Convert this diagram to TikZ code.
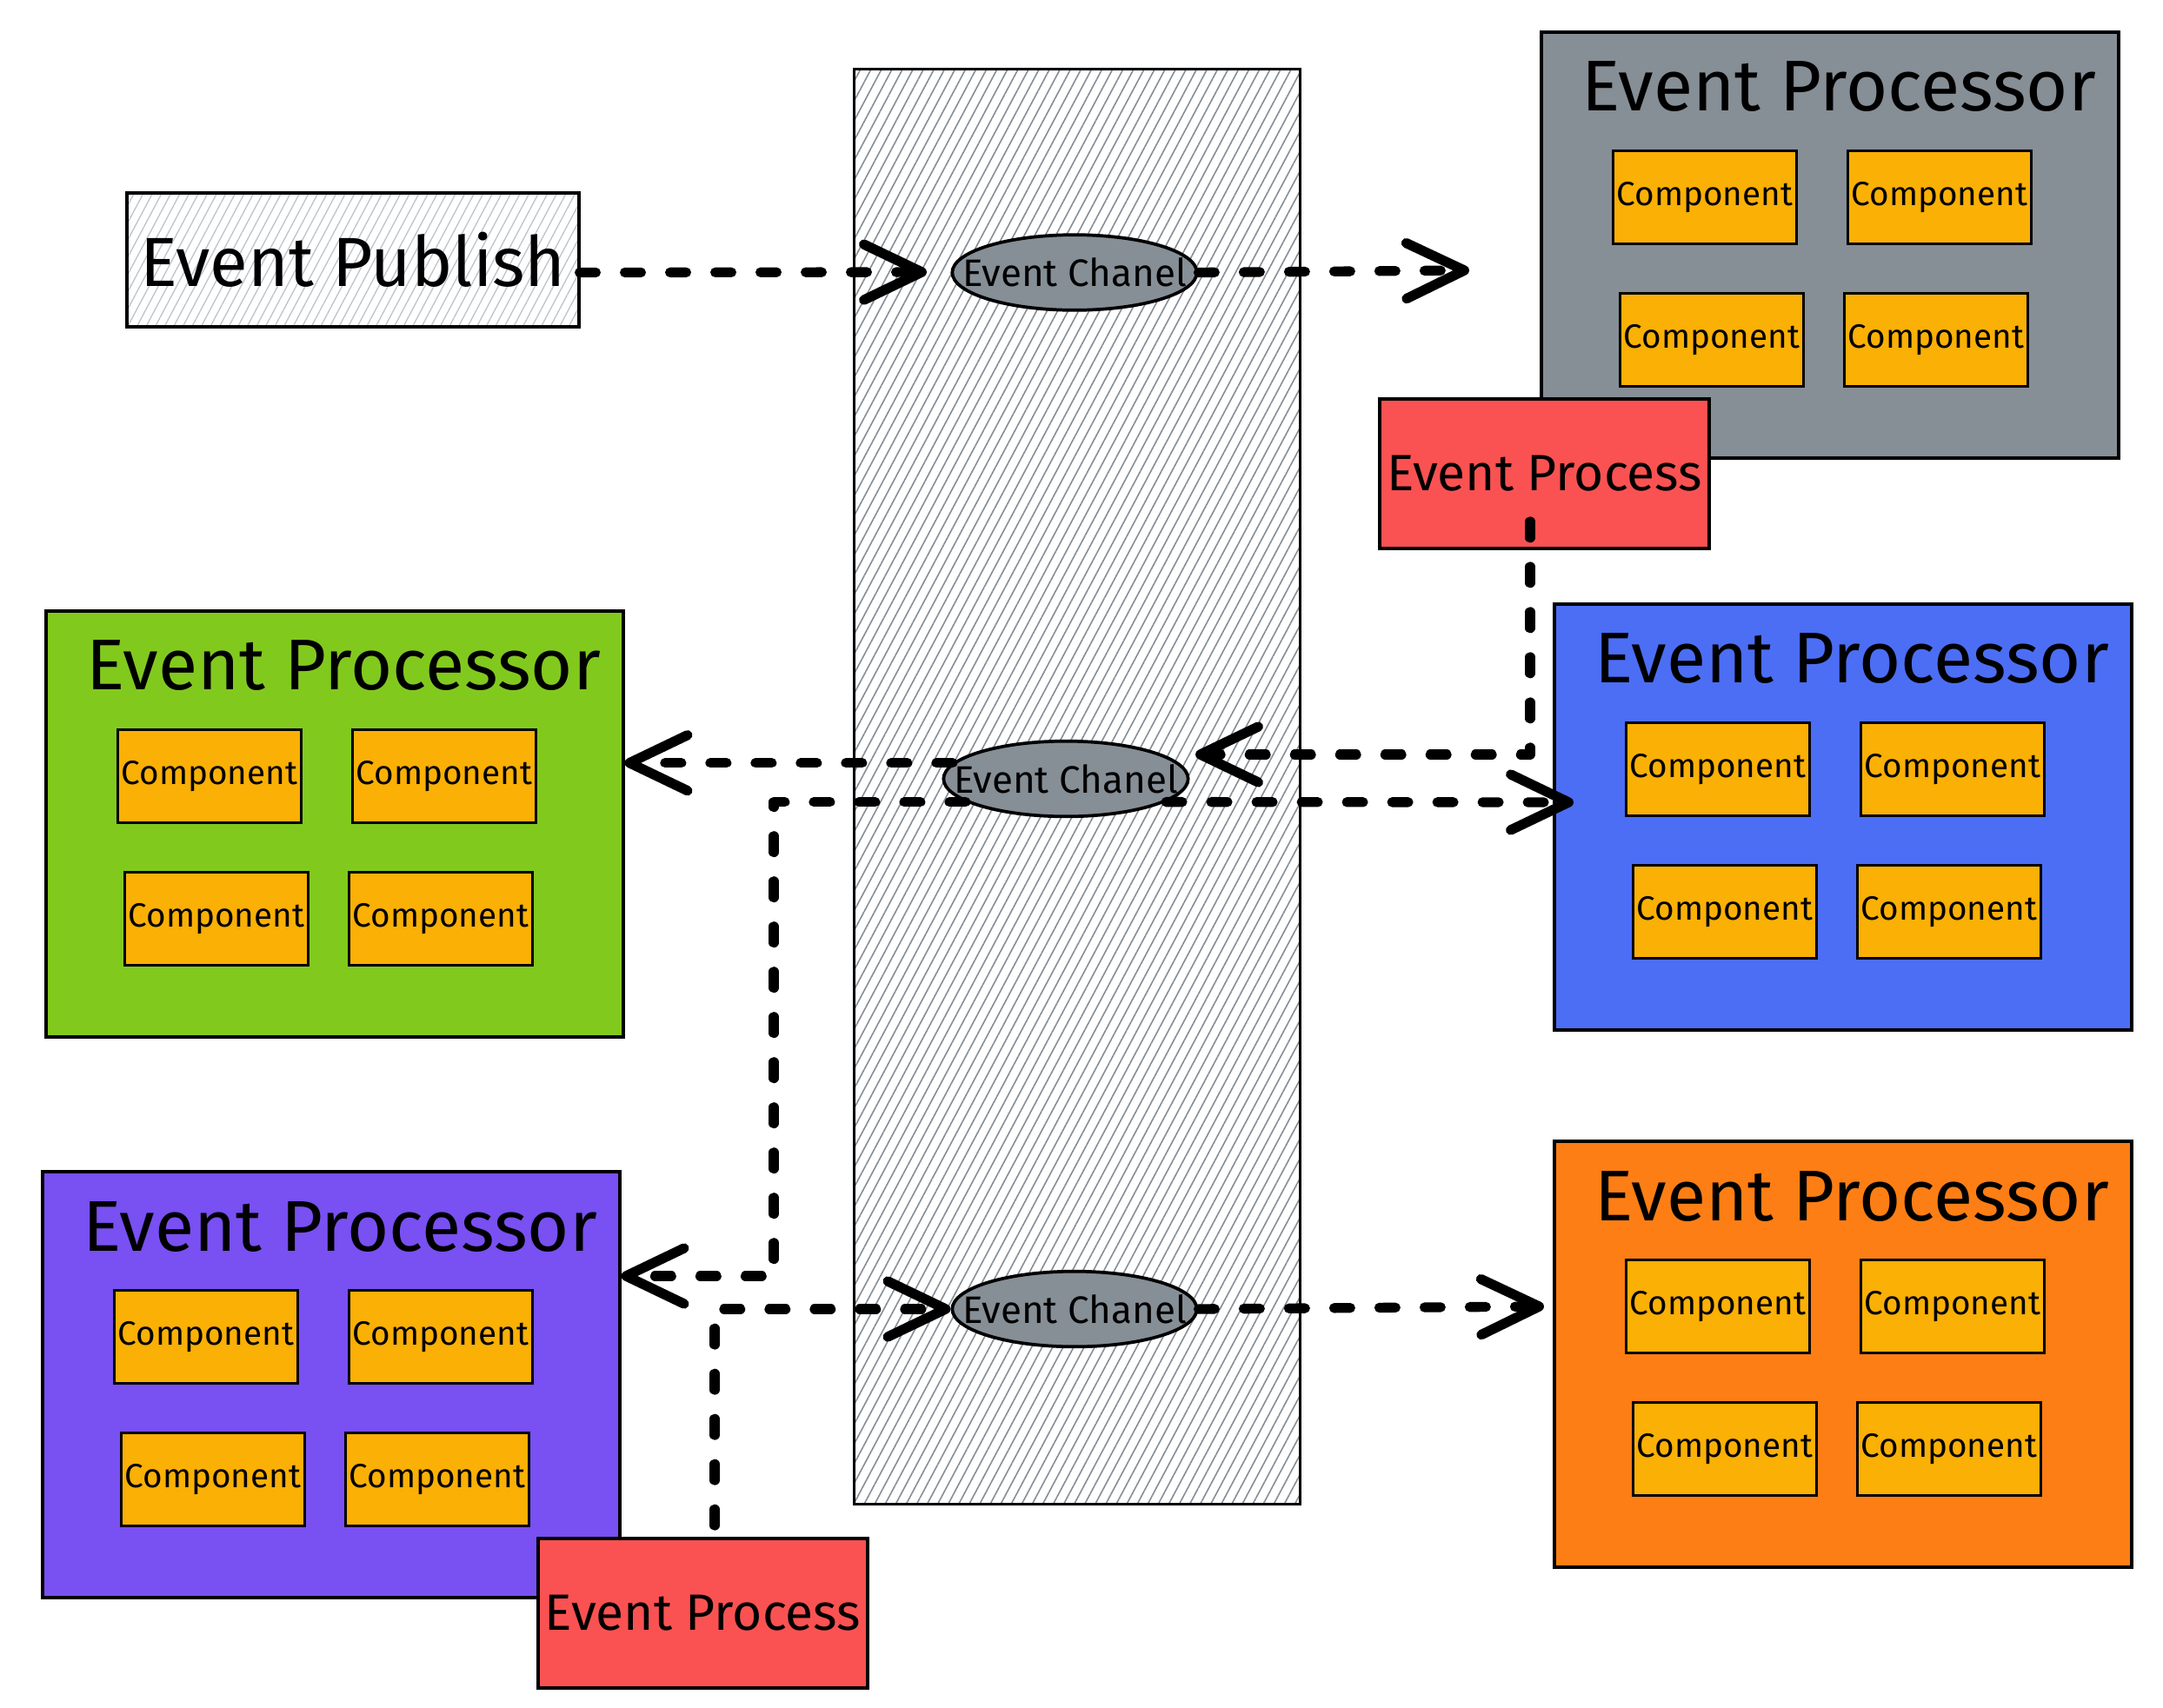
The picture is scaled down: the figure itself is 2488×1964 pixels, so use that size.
\documentclass[tikz,border=0pt]{standalone}
\usepackage{fontspec}
\setmainfont{Fira Sans}
\usepackage{tikz}
\usetikzlibrary{arrows.meta,shapes.geometric,patterns.meta}

\begin{document}
\begin{tikzpicture}[x=0.75pt,y=0.75pt,yscale=-1,xscale=1,
  proc/.style={draw, line width=3pt, minimum width=498pt, minimum height=367pt, inner sep=0pt},
  comp/.style={draw, line width=2.2pt, fill={rgb, 255:red, 250; green, 176; blue, 5}, minimum width=158pt, minimum height=80pt, inner sep=0pt, font=\fontsize{29}{32}\selectfont},
  ttl/.style={inner sep=0pt, font=\fontsize{62}{70}\selectfont},
  evproc/.style={draw, line width=3pt, fill={rgb, 255:red, 250; green, 82; blue, 82}, minimum width=284pt, minimum height=129pt, inner sep=0pt, font=\fontsize{44}{50}\selectfont},
  chan/.style={ellipse, draw, line width=2.8pt, fill={rgb, 255:red, 134; green, 142; blue, 150}, minimum width=211pt, minimum height=65pt, inner sep=0pt},
  chantxt/.style={inner sep=0pt, font=\fontsize{33}{38}\selectfont},
  flow/.style={line width=8.5pt, dash pattern=on 14pt off 25pt, line cap=round, line join=round, -{Straight Barb[length=50pt,width=48pt,round]}}
]
\useasboundingbox (0,0) rectangle (2488,1964);

%Shape: Hatched channel column
\node (bus) [draw, line width=2.2pt, pattern={Lines[angle=62,distance=8pt,line width=1.2pt]}, pattern color={rgb, 255:red, 134; green, 142; blue, 150}, minimum width=385pt, minimum height=1238pt] at (1239,905) {};
%Shape: Publisher
\node (pub) [draw, line width=3pt, pattern={Lines[angle=62,distance=7pt,line width=1pt]}, pattern color={rgb, 255:red, 190; green, 196; blue, 202}, minimum width=390pt, minimum height=115pt, inner sep=0pt, font=\fontsize{60}{66}\selectfont] at (406,299) {Event Publish};

%Shape: Processor boxes
\node (procGray) [proc, fill={rgb, 255:red, 134; green, 142; blue, 150}] at (2104.5,282) {};
\node (procBlue) [proc, fill={rgb, 255:red, 76; green, 110; blue, 245}] at (2119.5,940) {};
\node (procGreen) [proc, fill={rgb, 255:red, 130; green, 201; blue, 30}] at (384.5,948) {};
\node (procPurple) [proc, fill={rgb, 255:red, 121; green, 80; blue, 242}] at (380.5,1593) {};
\node (procOrange) [proc, fill={rgb, 255:red, 253; green, 126; blue, 20}] at (2119.5,1558) {};

% Text Node
\node (ttlGray) [ttl] at (2115,100) {Event Processor};
\node (ttlBlue) [ttl] at (2130,758) {Event Processor};
\node (ttlGreen) [ttl] at (395,766) {Event Processor};
\node (ttlPurple) [ttl] at (391,1411) {Event Processor};
\node (ttlOrange) [ttl] at (2130,1376) {Event Processor};

%Shape: Components
\node (cGray1) [comp] at (1961,227) {Component};
\node (cGray2) [comp] at (2231,227) {Component};
\node (cGray3) [comp] at (1969,391) {Component};
\node (cGray4) [comp] at (2227,391) {Component};
\node (cBlue1) [comp] at (1976,885) {Component};
\node (cBlue2) [comp] at (2246,885) {Component};
\node (cBlue3) [comp] at (1984,1049) {Component};
\node (cBlue4) [comp] at (2242,1049) {Component};
\node (cGreen1) [comp] at (241,893) {Component};
\node (cGreen2) [comp] at (511,893) {Component};
\node (cGreen3) [comp] at (249,1057) {Component};
\node (cGreen4) [comp] at (507,1057) {Component};
\node (cPurple1) [comp] at (237,1538) {Component};
\node (cPurple2) [comp] at (507,1538) {Component};
\node (cPurple3) [comp] at (245,1702) {Component};
\node (cPurple4) [comp] at (503,1702) {Component};
\node (cOrange1) [comp] at (1976,1503) {Component};
\node (cOrange2) [comp] at (2246,1503) {Component};
\node (cOrange3) [comp] at (1984,1667) {Component};
\node (cOrange4) [comp] at (2242,1667) {Component};

%Shape: Event Process boxes
\node (evpA) [evproc] at (1776.5,544.5) {Event Process};
\node (evpB) [evproc] at (808.5,1855.5) {Event Process};

%Shape: Event channels
\node (ecA) [chan] at (1236,313.5) {};
\node (ecB) [chan] at (1226,896) {};
\node (ecC) [chan] at (1236,1506) {};
% Text Node
\node (lblA) [chantxt] at (ecA) {Event Chanel};
\node (lblB) [chantxt] at (ecB) {Event Chanel};
\node (lblC) [chantxt] at (ecC) {Event Chanel};

% free ends and bends
\coordinate (tipA) at (1066,313);
\coordinate (tipB) at (1690,311);
\coordinate (outA) at (1760,600);
\coordinate (tipC) at (1375,868);
\coordinate (tipE) at (1810,923);
\coordinate (bendE) at (890,1468);
\coordinate (outB) at (822,1755);
\coordinate (tipG) at (1776,1503);

%Straight Lines
\draw [flow] (pub.east |- ecA.west) -- (tipA);
\draw [flow] (ecA.east) -- (tipB);
\draw [flow] (outA) |- (tipC);
\draw [flow] (ecB.172) -- (procGreen.east |- ecB.172);
\draw [flow] (ecB.-13) -- (tipE);
\draw [flow] (ecB.193) -| (bendE) -- (procPurple.east |- bendE);
\draw [flow] (outB) |- (ecC.west);
\draw [flow] (ecC.east) -- (tipG);

\end{tikzpicture}
\end{document}
